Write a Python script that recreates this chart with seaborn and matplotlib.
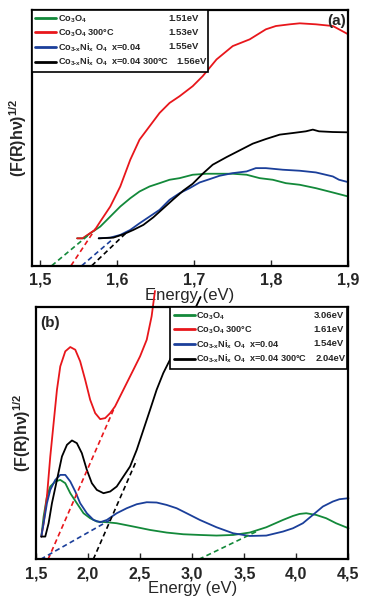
import numpy as np
import pandas as pd
import matplotlib
matplotlib.use('Agg')
import matplotlib.pyplot as plt
import matplotlib.transforms as mtransforms
import seaborn as sns

sns.set_style('ticks')
plt.rcParams['font.family'] = ['Liberation Sans', 'DejaVu Sans']
plt.rcParams['mathtext.fontset'] = 'custom'
plt.rcParams['mathtext.rm'] = 'Liberation Sans:bold'
plt.rcParams['mathtext.bf'] = 'Liberation Sans:bold'
plt.rcParams['mathtext.it'] = 'Liberation Sans:italic'
plt.rcParams['mathtext.default'] = 'bf'

GREEN, RED, BLUE, BLACK = '#13893a', '#e8161b', '#1b3f9a', '#000000'

# ---------- panel (a) data : energy (eV) vs (F(R)hv)^1/2 (arb. units) ----------
a_green_e = [1.548, 1.556, 1.565, 1.578, 1.591, 1.604, 1.617, 1.629, 1.642, 1.655, 1.668, 1.681,
             1.698, 1.716, 1.733, 1.750, 1.768, 1.785, 1.802, 1.819, 1.837, 1.858, 1.880, 1.900]
a_green_y = [27.3, 27.3, 32.3, 39, 49, 59, 67.3, 74, 79, 82.3, 85.7, 87.3,
             90.7, 91.7, 91.7, 91.7, 90.7, 87.3, 85.7, 82.3, 80.7, 77.3, 73, 69]
a_red_e = [1.548, 1.555, 1.571, 1.578, 1.591, 1.604, 1.617, 1.629, 1.642, 1.655, 1.668, 1.681,
           1.698, 1.711, 1.729, 1.750, 1.772, 1.793, 1.806, 1.824, 1.837, 1.858, 1.880, 1.888, 1.900]
a_red_y = [27.3, 27.3, 35.7, 44, 59, 79, 105.7, 125.7, 139, 152.3, 162.3, 169,
           179, 189, 205.7, 219, 225.7, 235.7, 239, 240.7, 241.7, 240.7, 239, 235.7, 230.7]
a_blue_e = [1.576, 1.591, 1.604, 1.617, 1.629, 1.642, 1.655, 1.668, 1.681, 1.694, 1.707, 1.720,
            1.733, 1.750, 1.768, 1.780, 1.793, 1.815, 1.837, 1.858, 1.880, 1.888, 1.900]
a_blue_y = [27.3, 28, 30.7, 35.7, 42.3, 49, 55.7, 65.7, 72.3, 77.3, 83, 86.3,
            89.7, 92.3, 94, 97.3, 97.3, 95.7, 94.7, 93, 89, 85.7, 83.3]
a_black_e = [1.576, 1.595, 1.608, 1.621, 1.634, 1.647, 1.660, 1.673, 1.686, 1.698, 1.711, 1.724,
             1.742, 1.759, 1.776, 1.793, 1.811, 1.828, 1.845, 1.854, 1.862, 1.880, 1.900]
a_black_y = [27.3, 28, 31.3, 35.7, 40.7, 48.3, 57.3, 66.3, 75, 81.7, 91.7, 100.7,
             108.3, 115, 121.7, 126.3, 130.7, 132.3, 134, 135.7, 134, 133.3, 133]
# tangent (Tauc) extrapolation lines: [start, end]
a_fit_green = ([1.515, 1.565], [0, 32])
a_fit_red = ([1.540, 1.572], [0, 37])
a_fit_blue = ([1.554, 1.595], [0, 27])
a_fit_black = ([1.567, 1.612], [0, 33])
a_gaps = ['1.51eV', '1.53eV', '1.55eV', '1.56eV']

# ---------- panel (b) data ----------
b_green_e = [1.551, 1.573, 1.605, 1.637, 1.685, 1.733, 1.781, 1.829, 1.892, 1.956, 2.020, 2.084,
             2.180, 2.275, 2.435, 2.595, 2.754, 2.914, 3.073, 3.233, 3.392, 3.552, 3.711, 3.871,
             3.967, 4.030, 4.094, 4.190, 4.286, 4.381, 4.500]
b_green_y = [22.7, 42.7, 62.7, 72.7, 77.7, 79.3, 76, 66, 56, 46, 41, 37.7,
             37, 36, 32.7, 29.3, 26.7, 25, 24.3, 23.7, 24.3, 26.7, 32, 39.3,
             43.3, 45.3, 46, 44.3, 41, 36, 31]
b_red_e = [1.551, 1.573, 1.605, 1.637, 1.669, 1.701, 1.733, 1.781, 1.829, 1.877, 1.924, 1.972,
           2.020, 2.068, 2.116, 2.164, 2.212, 2.259, 2.307, 2.371, 2.435, 2.499, 2.563, 2.610, 2.642]
b_red_y = [22.7, 36, 62.7, 102.7, 136, 169.3, 192.7, 207.7, 212, 209.3, 197.7, 179.3,
           159.3, 146, 140, 141, 146, 152.7, 162.7, 176, 189.3, 202.7, 219.3, 242.7, 268]
b_blue_e = [1.551, 1.573, 1.605, 1.637, 1.685, 1.733, 1.781, 1.829, 1.877, 1.924, 1.988, 2.052,
            2.116, 2.180, 2.275, 2.371, 2.467, 2.563, 2.658, 2.754, 2.850, 2.946, 3.073, 3.233,
            3.392, 3.552, 3.711, 3.871, 3.967, 4.062, 4.158, 4.254, 4.350, 4.413, 4.500]
b_blue_y = [22.7, 36, 56, 69.3, 79.3, 84.3, 84.3, 77.7, 67.7, 56, 46, 39.3,
            37, 39.3, 46, 51, 55, 57, 56.7, 54.3, 51, 46, 39.3, 32,
            26, 23.3, 23.7, 27.7, 31, 36, 44.3, 52.7, 57.7, 60, 61]
b_black_e = [1.551, 1.589, 1.621, 1.653, 1.701, 1.749, 1.797, 1.845, 1.892, 1.940, 1.988, 2.036,
             2.084, 2.148, 2.212, 2.275, 2.339, 2.403, 2.467, 2.531, 2.595, 2.658, 2.722, 2.786,
             2.850, 2.946, 3.041, 3.080]
b_black_y = [22.7, 22.7, 36, 56, 79.3, 102.7, 114.3, 118.7, 116, 106, 89.3, 76,
             69.3, 66, 67.7, 72.7, 82.7, 92.7, 109.3, 129.3, 149.3, 169.3, 186, 199.3,
             214, 236, 253.3, 262]
b_fit_green = ([3.064, 3.616], [0, 27.7])
b_fit_red = ([1.616, 2.244], [0, 149.3])
b_fit_blue = ([1.545, 2.212], [0, 39.3])
b_fit_black = ([2.050, 2.467], [0, 99.3])
b_gaps = ['3.06eV', '1.61eV', '1.54eV', '2.04eV']

names = ['Co$_3$O$_4$', 'Co$_3$O$_4$ 300°C',
         'Co$_{3\\text{-}x}$Ni$_x$ O$_4$  x=0.04',
         'Co$_{3\\text{-}x}$Ni$_x$ O$_4$  x=0.04 300°C']
colors = [GREEN, RED, BLUE, BLACK]

fig = plt.figure(figsize=(3.72, 6.01), dpi=100)
ax_a = fig.add_axes([0.0852, 0.5579, 0.851, 0.4255])
ax_b = fig.add_axes([0.0968, 0.0694, 0.840, 0.4198])


def draw_panel(ax, curves, fits, clip_top=True):
    for (e, y), c, lab in zip(curves, colors, names):
        sns.lineplot(x=e, y=y, color=c, lw=1.3, sort=False, estimator=None, label=lab,
                     ax=ax, clip_on=clip_top)
    for (e, y), c in zip(fits, colors):
        sns.lineplot(x=e, y=y, color=c, lw=1.2, ls=(0, (3, 2)), sort=False,
                     estimator=None, ax=ax)


draw_panel(ax_a, [(a_green_e, a_green_y), (a_red_e, a_red_y), (a_blue_e, a_blue_y),
                  (a_black_e, a_black_y)],
           [a_fit_green, a_fit_red, a_fit_blue, a_fit_black])
draw_panel(ax_b, [(b_green_e, b_green_y), (b_red_e, b_red_y), (b_blue_e, b_blue_y),
                  (b_black_e, b_black_y)],
           [b_fit_green, b_fit_red, b_fit_blue, b_fit_black], clip_top=False)

ax_a.set_xlim(1.489, 1.9)
ax_a.set_ylim(0, 255)
ax_a.set_xticks([1.5, 1.6, 1.7, 1.8, 1.9])
ax_a.set_xticklabels(['1,5', '1,6', '1,7', '1,8', '1,9'])
ax_b.set_xlim(1.5, 4.5)
ax_b.set_ylim(0, 252)
ax_b.set_xticks([1.5, 2.0, 2.5, 3.0, 3.5, 4.0, 4.5])
ax_b.set_xticklabels(['1,5', '2,0', '2,5', '3,0', '3,5', '4,0', '4,5'])

for ax in (ax_a, ax_b):
    ax.set_yticks([])
    for sp in ax.spines.values():
        sp.set_visible(True)
        sp.set_linewidth(1.6)
        sp.set_color('black')
    ax.tick_params(axis='x', direction='in', length=4, width=1, pad=5,
                   labelsize=11.5)
    for t in ax.get_xticklabels():
        t.set_fontweight('bold')
    ax.set_xlabel('Energy (eV)', fontsize=12, labelpad=0)
    ax.set_ylabel('(F(R)h\u03bd)$^{1/2}$', fontsize=11.5, fontweight='bold', labelpad=2)

ax_a.text(0.992, 0.985, '(a)', transform=ax_a.transAxes, ha='right', va='top',
          fontsize=11, fontweight='bold')
ax_b.text(0.012, 0.965, '(b)', transform=ax_b.transAxes, ha='left', va='top',
          fontsize=11, fontweight='bold')

leg_kw = dict(mode='expand', borderaxespad=0, fancybox=False, framealpha=1,
              edgecolor='black', handlelength=2.3, handletextpad=0.15,
              labelspacing=0.24, borderpad=0.4,
              prop={'size': 6.6, 'weight': 'bold'})
leg_a = ax_a.legend(loc='upper left', bbox_to_anchor=(0, 1, 0.556, 0), **leg_kw)
leg_b = ax_b.legend(loc='upper right', bbox_to_anchor=(0.429, 1, 0.566, 0), **leg_kw)
for leg in (leg_a, leg_b):
    leg.get_frame().set_linewidth(1.2)
    for h in leg.legend_handles:
        h.set_linewidth(2)

fig.canvas.draw()
ident = mtransforms.IdentityTransform()
for leg, gaps, pads in ((leg_a, a_gaps, [9, 9, 9, 1]), (leg_b, b_gaps, [3, 3, 3, 1])):
    xr = leg.get_frame().get_window_extent().x1
    for h, g, p in zip(leg.legend_handles, gaps, pads):
        bb = h.get_window_extent()
        yc = 0.5 * (bb.y0 + bb.y1)
        fig.text(xr - p, yc, g, transform=ident, ha='right', va='center',
                 fontsize=6.8, fontweight='bold', zorder=10)

fig.savefig('out.png', dpi=100)
